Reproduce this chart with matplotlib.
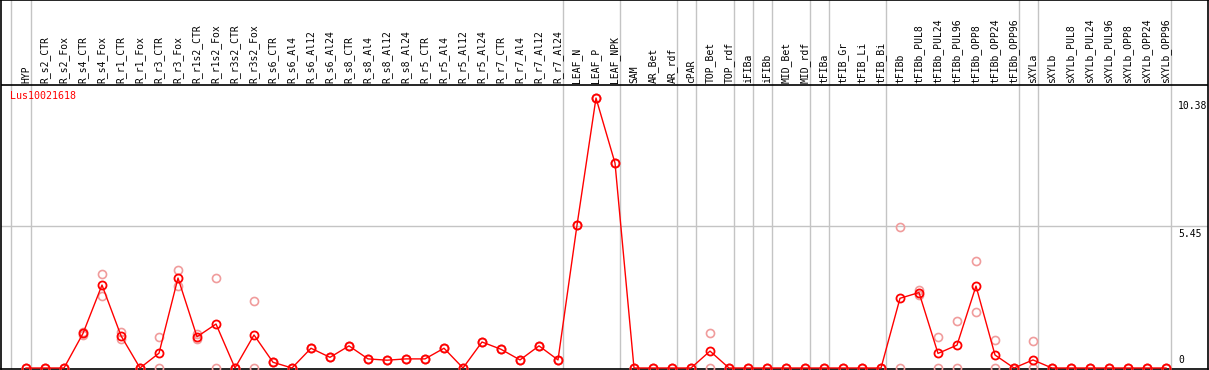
import matplotlib
matplotlib.use("Agg")
import matplotlib.pyplot as plt

categories = [
    "HYP", "R_s2_CTR", "R_s2_Fox", "R_s4_CTR", "R_s4_Fox", "R_r1_CTR", "R_r1_Fox",
    "R_r3_CTR", "R_r3_Fox", "R_r1s2_CTR", "R_r1s2_Fox", "R_r3s2_CTR", "R_r3s2_Fox",
    "R_s6_CTR", "R_s6_Al4", "R_s6_Al12", "R_s6_Al24", "R_s8_CTR", "R_s8_Al4",
    "R_s8_Al12", "R_s8_Al24", "R_r5_CTR", "R_r5_Al4", "R_r5_Al12", "R_r5_Al24",
    "R_r7_CTR", "R_r7_Al4", "R_r7_Al12", "R_r7_Al24", "LEAF_N", "LEAF_P", "LEAF_NPK",
    "SAM", "AR_Bet", "AR_rdf", "cPAR", "TOP_Bet", "TOP_rdf", "iFIBa", "iFIBb",
    "MID_Bet", "MID_rdf", "tFIBa", "tFIB_Gr", "tFIB_Li", "tFIB_Bi", "tFIBb",
    "tFIBb_PUL8", "tFIBb_PUL24", "tFIBb_PUL96", "tFIBb_OPP8", "tFIBb_OPP24",
    "tFIBb_OPP96", "sXYLa", "sXYLb", "sXYLb_PUL8", "sXYLb_PUL24", "sXYLb_PUL96",
    "sXYLb_OPP8", "sXYLb_OPP24", "sXYLb_OPP96",
]

# mean expression per sample
mean_vals = [
    0, 0, 0, 1.33, 3.19, 1.24, 0, 0.57, 3.46, 1.20, 1.69, 0, 1.27,
    0.22, 0, 0.76, 0.41, 0.85, 0.35, 0.30, 0.35, 0.35, 0.76, 0, 1.00,
    0.72, 0.31, 0.85, 0.31, 5.49, 10.38, 7.88,
    0, 0, 0, 0, 0.65, 0, 0, 0, 0, 0, 0, 0, 0, 0,
    2.68, 2.90, 0.56, 0.88, 3.15, 0.50, 0,
    0.31, 0, 0, 0, 0, 0, 0, 0,
]

# replicate values (light circles)
rep_a = [
    0, 0, 0, 1.38, 3.61, 1.40, 0, 1.18, 3.77, 1.30, 3.45, 0, 2.58,
    0.22, 0, 0.76, 0.41, 0.85, 0.35, 0.30, 0.35, 0.35, 0.76, 0, 1.00,
    0.72, 0.31, 0.85, 0.31, 5.49, 10.38, 7.88,
    0, 0, 0, 0, 1.35, 0, 0, 0, 0, 0, 0, 0, 0, 0,
    5.41, 3.00, 1.18, 1.81, 4.11, 1.08, 0,
    1.04, 0, 0, 0, 0, 0, 0, 0,
]
rep_b = [
    0, 0, 0, 1.28, 2.77, 1.10, 0, 0, 3.15, 1.10, 0, 0, 0,
    0.22, 0, 0.76, 0.41, 0.85, 0.35, 0.30, 0.35, 0.35, 0.76, 0, 1.00,
    0.72, 0.31, 0.85, 0.31, 5.49, 10.38, 7.88,
    0, 0, 0, 0, 0, 0, 0, 0, 0, 0, 0, 0, 0, 0,
    0, 2.80, 0, 0, 2.14, 0, 0,
    0, 0, 0, 0, 0, 0, 0, 0,
]

# last sample of each tissue group (gray separators)
group_ends = [0, 28, 31, 34, 35, 37, 38, 39, 41, 42, 45, 52, 53, 60]

gene = "Lus10021618"
tick_vals = [0, 5.45, 10.38]

# pixel layout of the original picture
X0, DX = 26, 19          # x pixel of first sample, spacing
Y0, DY = 368, 26.01      # y pixel of zero, pixels per unit
W, H = 1209, 370


def py(p):
    return (Y0 - p) / DY


def px(p):
    return (p - X0) / DX


mono = "DejaVu Sans Mono"
fig = plt.figure(figsize=(W / 100, H / 100), dpi=100)
ax = fig.add_axes([1 / W, 1 / H, 1207 / W, 369 / H])
ax.set_xlim(px(1), px(1208))
ax.set_ylim(py(369), py(0))
ax.set_xticks([])
ax.set_yticks([])
for s in ax.spines.values():
    s.set_color("black")
    s.set_linewidth(1.2)

# separators and grid
ax.axvline(px(11), color="#c4c4c4", lw=1.0, zorder=1)
for g in group_ends:
    ax.axvline(g + 5 / DX, color="#c4c4c4", lw=1.0, zorder=1)
ax.axhline(5.45, color="#c4c4c4", lw=1.0, zorder=1)
ax.axhline(py(85), color="black", lw=1.2, zorder=2)

x = list(range(len(categories)))
ax.plot(x, rep_a, ls="none", marker="o", ms=5.8, mfc="none", mec="#f09c9c",
        mew=1.2, clip_on=False, zorder=3)
ax.plot(x, rep_b, ls="none", marker="o", ms=5.8, mfc="none", mec="#f09c9c",
        mew=1.2, clip_on=False, zorder=3)
ax.plot(x, mean_vals, color="red", lw=1.0, marker="o", ms=5.8, mfc="none",
        mec="red", mew=1.3, clip_on=False, zorder=4)

for i, lab in enumerate(categories):
    ax.text(i, py(83), lab, rotation=90, ha="center", va="bottom",
            fontsize=7, family=mono, color="black")

ax.text(px(10), py(91), gene, ha="left", va="top", fontsize=7.2,
        family=mono, color="red")

for v in tick_vals:
    lab = "0" if v == 0 else f"{v:.2f}"
    if v == 0:
        ax.text(px(1178), py(Y0 - 3), lab, ha="left", va="bottom",
                fontsize=7, family=mono)
    else:
        ax.text(px(1178), v - 3 / DY, lab, ha="left", va="top",
                fontsize=7, family=mono)

fig.savefig("out.png", dpi=100)
